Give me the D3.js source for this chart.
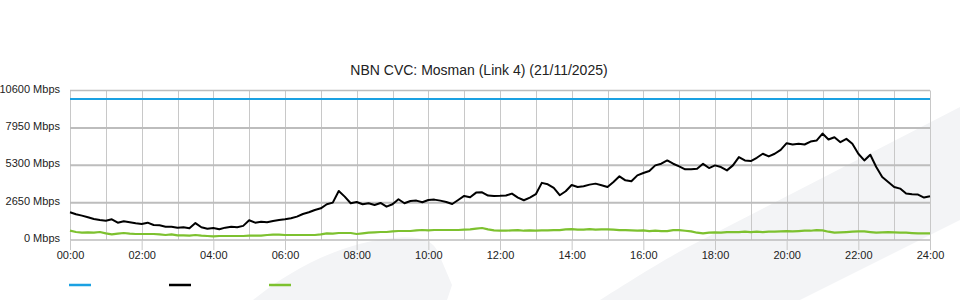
<!DOCTYPE html>
<html>
<head>
<meta charset="utf-8">
<script src="https://cdn.jsdelivr.net/npm/d3@7"></script>
<style>
  body { margin: 0; background: #fff; }
  svg { display: block; font-family: "Liberation Sans", Arial, sans-serif; }
</style>
</head>
<body>
<svg id="chart" width="960" height="300"></svg>
<script>
// NBN CVC chart - 10 minute samples, Mbps
const title = 'NBN CVC: Mosman (Link 4) (21/11/2025)';
const stepMinutes = 10;
const yTicks = [0, 2650, 5300, 7950, 10600];
const xTicks = [0, 2, 4, 6, 8, 10, 12, 14, 16, 18, 20, 22, 24];

const capacityHours = [0, 24];
const capacity = [10000, 10000];

const traffic = [
  1964, 1822, 1727, 1609, 1491, 1420,
  1372, 1467, 1230, 1325, 1254, 1183,
  1136, 1230, 1065, 1041, 946, 946,
  875, 899, 828, 1200, 900, 804,
  852, 757, 875, 946, 899, 1000,
  1400, 1230, 1300, 1260, 1349, 1420,
  1467, 1538, 1656, 1845, 1964, 2129,
  2248, 2532, 2650, 3478, 3076, 2603,
  2697, 2532, 2603, 2484, 2626, 2366,
  2532, 2887, 2603, 2768, 2792, 2674,
  2839, 2863, 2792, 2697, 2555, 2839,
  3123, 3028, 3360, 3383, 3147, 3123,
  3130, 3150, 3291, 3009, 2821, 3009,
  3244, 4050, 3950, 3691, 3174, 3456,
  3900, 3762, 3809, 3926, 3997, 3879,
  3762, 4114, 4514, 4232, 4161, 4584,
  4749, 4890, 5290, 5407, 5642, 5407,
  5219, 5008, 5008, 5055, 5400, 5102,
  5290, 5172, 4937, 5290, 5878, 5642,
  5595, 5830, 6113, 5925, 6113, 6395,
  6865, 6771, 6818, 6771, 6982, 7053,
  7547, 7124, 7288, 6935, 7171, 6818,
  6113, 5642, 6042, 5172, 4467, 4114,
  3762, 3644, 3291, 3244, 3221, 3009,
  3103
];

const other = [
  662, 568, 520, 544, 520, 568,
  473, 402, 450, 497, 450, 426,
  426, 426, 426, 402, 355, 402,
  331, 331, 308, 355, 308, 284,
  260, 284, 284, 284, 284, 284,
  308, 308, 308, 355, 379, 379,
  355, 355, 355, 355, 355, 355,
  402, 473, 450, 497, 497, 497,
  426, 473, 520, 544, 568, 568,
  615, 639, 639, 639, 686, 710,
  686, 710, 710, 710, 710, 710,
  733, 757, 804, 852, 757, 686,
  670, 658, 682, 705, 658, 682,
  658, 682, 682, 705, 705, 752,
  776, 729, 729, 776, 729, 752,
  752, 729, 705, 705, 682, 658,
  682, 635, 658, 635, 635, 705,
  705, 658, 611, 517, 470, 517,
  541, 517, 564, 564, 564, 588,
  564, 588, 564, 588, 588, 611,
  635, 611, 635, 658, 658, 705,
  682, 588, 517, 541, 564, 588,
  611, 611, 564, 517, 541, 564,
  541, 517, 517, 494, 470, 470,
  470
];

const colors = { capacity: '#1ba1e2', traffic: '#000000', other: '#7dc12f' };

const svg = d3.select('#chart');
const margin = { left: 70, right: 30, top: 90.5, bottom: 60 };
const width = 960, height = 300;

const x = d3.scaleLinear().domain([0, 24]).range([margin.left, width - margin.right]);
const y = d3.scaleLinear().domain([0, 10600]).range([height - margin.bottom, margin.top]);

// faint watermark behind everything
const wm = svg.append('g').attr('fill', '#f3f4f6');
wm.append('path').attr('d', 'M253,300 C300,262 350,242 392,238 C420,235 433,240 438,252 L452,285 L447,300 Z');
wm.append('path').attr('d', 'M600,300 C640,275 660,262 690,246 L960,107 L960,220 L800,300 Z');

// grid
const grid = svg.append('g');
grid.selectAll('.vgrid').data(d3.range(0, 25))
  .join('line')
  .attr('x1', d => Math.round(x(d)) + 0.5).attr('x2', d => Math.round(x(d)) + 0.5)
  .attr('y1', y(10600)).attr('y2', y(0))
  .attr('stroke', '#c8c8c8').attr('stroke-width', 1);
grid.selectAll('.hgrid').data(yTicks)
  .join('line')
  .attr('x1', x(0)).attr('x2', x(24))
  .attr('y1', d => y(d)).attr('y2', d => y(d))
  .attr('stroke', '#bdbdbd').attr('stroke-width', d => d === 0 || d === 10600 ? 1.5 : 2);

// x axis
const xAxis = d3.axisBottom(x)
  .tickValues(xTicks)
  .tickSize(10)
  .tickFormat(d => String(d).padStart(2, '0') + ':00');
const gx = svg.append('g').attr('transform', `translate(0,${y(0)})`).call(xAxis);
gx.select('.domain').remove();
gx.selectAll('.tick line').attr('stroke', '#c8c8c8');
gx.selectAll('.tick text').attr('fill', '#222').attr('font-size', 11).attr('dy', '0.55em');

// y labels
svg.append('g').selectAll('text').data(yTicks)
  .join('text')
  .attr('x', 60).attr('y', d => y(d) + 2)
  .attr('text-anchor', 'end')
  .attr('font-size', 11).attr('fill', '#222')
  .text(d => d + ' Mbps');

// title
svg.append('text')
  .attr('x', 479).attr('y', 75)
  .attr('text-anchor', 'middle')
  .attr('font-size', 14).attr('fill', '#222')
  .text(title);

// series
const hourOf = i => i * stepMinutes / 60;
const line = d3.line().x(d => x(d[0])).y(d => y(d[1]));

svg.append('path')
  .datum(capacityHours.map((h, i) => [h, capacity[i]]))
  .attr('fill', 'none').attr('stroke', colors.capacity).attr('stroke-width', 2)
  .attr('d', line);

svg.append('path')
  .datum(other.map((v, i) => [hourOf(i), v]))
  .attr('fill', 'none').attr('stroke', colors.other).attr('stroke-width', 2.2)
  .attr('stroke-linejoin', 'round')
  .attr('d', line);

svg.append('path')
  .datum(traffic.map((v, i) => [hourOf(i), v]))
  .attr('fill', 'none').attr('stroke', colors.traffic).attr('stroke-width', 2)
  .attr('stroke-linejoin', 'round')
  .attr('d', line);

// legend (no labels, just swatches)
const legend = svg.append('g');
legend.selectAll('line').data([colors.capacity, colors.traffic, colors.other])
  .join('line')
  .attr('x1', (d, i) => 69 + i * 100).attr('x2', (d, i) => 91 + i * 100)
  .attr('y1', 285).attr('y2', 285)
  .attr('stroke', d => d).attr('stroke-width', 2.5);
</script>
</body>
</html>
